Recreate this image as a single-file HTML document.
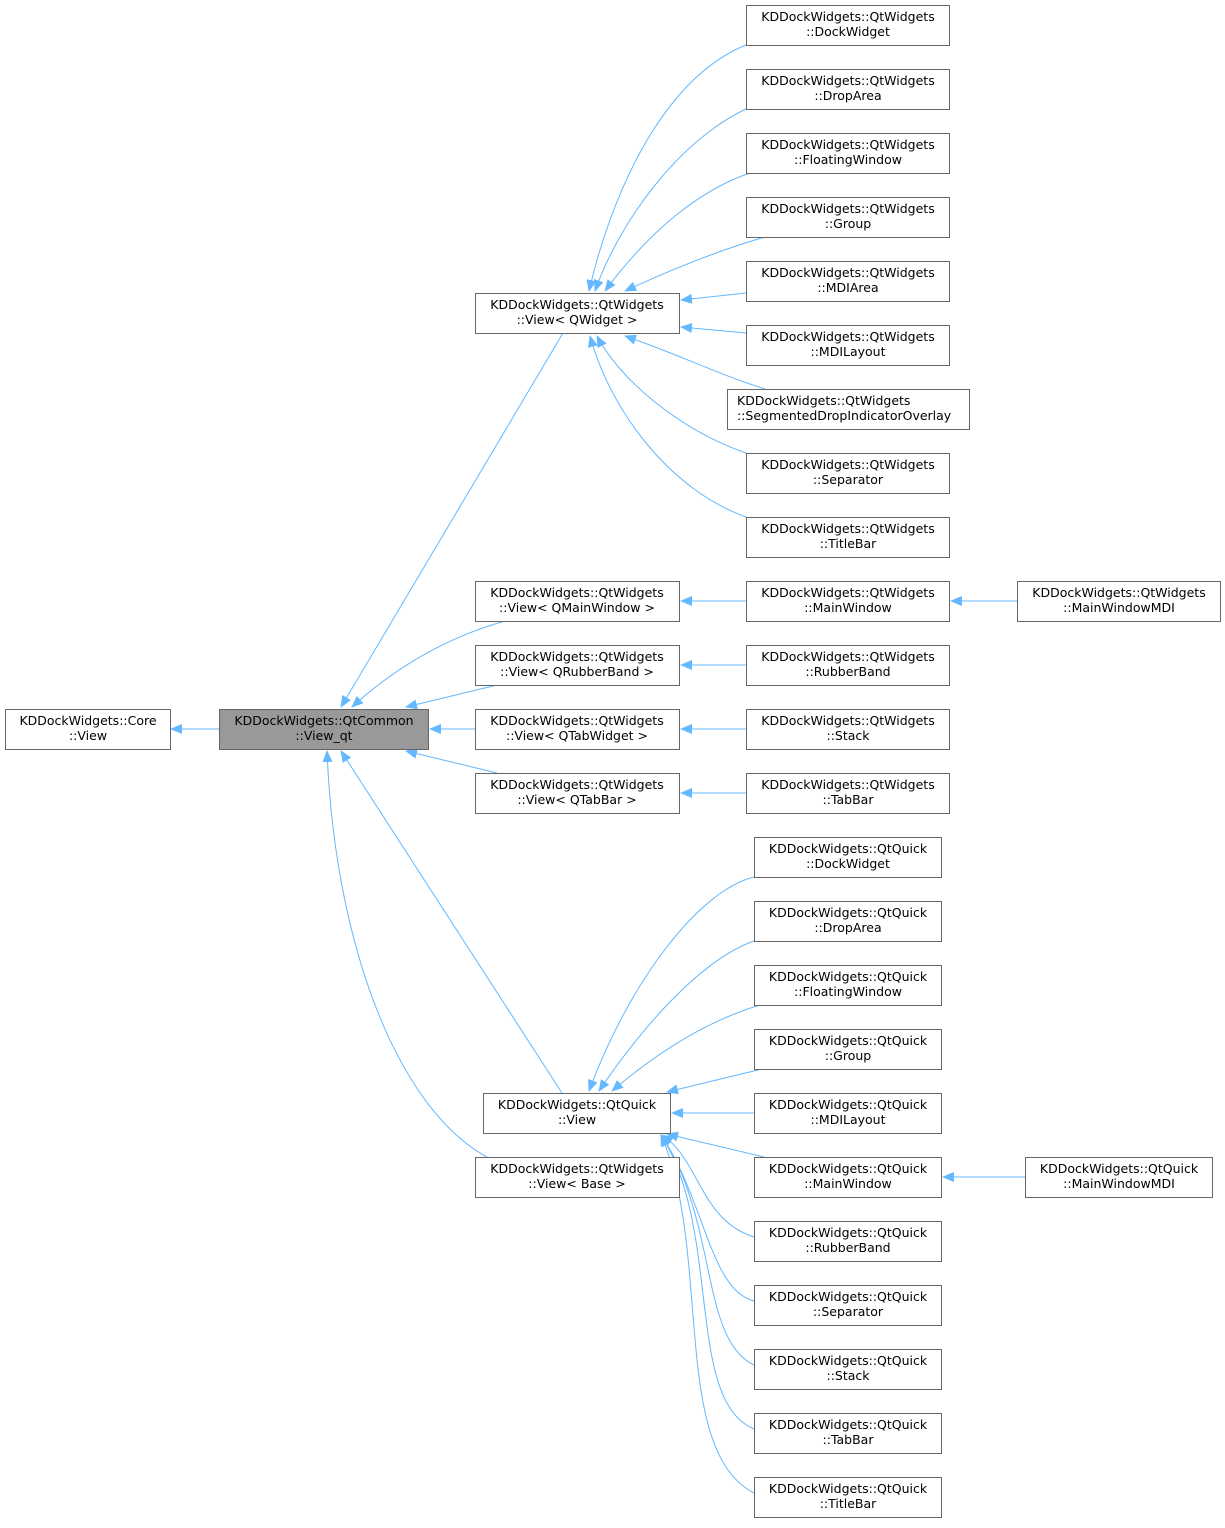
<!DOCTYPE html>
<html><head><meta charset="utf-8"><style>
body{margin:0;background:#fff}
svg text{font-family:"DejaVu Sans","Liberation Sans",sans-serif;font-size:12.5px;fill:#000}
</style></head><body>
<svg width="1225" height="1523" viewBox="0 0 1225 1523" xmlns="http://www.w3.org/2000/svg">
<defs><marker id="a" markerWidth="12" markerHeight="10" refX="11" refY="5" orient="auto" markerUnits="userSpaceOnUse"><path d="M0,0 L12,5 L0,10 Z" fill="#63b8ff"/></marker></defs>
<g fill="none" stroke="#63b8ff" stroke-width="1" marker-end="url(#a)">
<path d="M219,729 L171,729"/>
<path d="M563,333 L341,707"/>
<path d="M505,621 Q420,645 352,707"/>
<path d="M497,685 L406,707"/>
<path d="M475,729 L430,729"/>
<path d="M497,773 L406,751"/>
<path d="M562,1093 L341,751"/>
<path d="M487,1157 C400,1110 335,950 327,751"/>
<path d="M746,45 C660,80 610,200 589,291"/>
<path d="M746,109 C680,140 620,220 595,291"/>
<path d="M750,173 C700,190 650,230 605,291"/>
<path d="M765,237 C720,250 670,270 625,291"/>
<path d="M746,293 L681,300"/>
<path d="M746,333 L681,327"/>
<path d="M765,389 C720,375 680,355 625,336"/>
<path d="M746,453 C680,430 620,380 597,336"/>
<path d="M746,517 C670,490 610,410 590,336"/>
<path d="M746,601 L681,601"/>
<path d="M1017,601 L951,601"/>
<path d="M746,665 L681,665"/>
<path d="M746,729 L681,729"/>
<path d="M746,793 L681,793"/>
<path d="M754,877 C700,890 630,980 589,1091"/>
<path d="M754,941 C700,960 640,1030 599,1091"/>
<path d="M760,1005 C710,1020 660,1050 612,1091"/>
<path d="M762,1069 L667,1092"/>
<path d="M754,1113 L672,1113"/>
<path d="M764,1157 L667,1134"/>
<path d="M1025,1177 L943,1177"/>
<path d="M754,1237 C700,1220 700,1160 662,1135"/>
<path d="M754,1301 C710,1290 705,1200 661,1135"/>
<path d="M754,1365 C700,1340 718,1220 661,1135"/>
<path d="M754,1429 C685,1400 722,1230 661,1135"/>
<path d="M754,1493 C670,1450 712,1250 661,1135"/>
</g>
<g stroke="#666" stroke-width="1" fill="#fff">
<rect x="5.5" y="709.5" width="165" height="40"/>
<rect x="219.5" y="709.5" width="209" height="40" fill="#999"/>
<rect x="475.5" y="293.5" width="204" height="40"/>
<rect x="475.5" y="581.5" width="204" height="40"/>
<rect x="475.5" y="645.5" width="204" height="40"/>
<rect x="475.5" y="709.5" width="204" height="40"/>
<rect x="475.5" y="773.5" width="204" height="40"/>
<rect x="475.5" y="1157.5" width="204" height="40"/>
<rect x="483.5" y="1093.5" width="187" height="40"/>
<rect x="746.5" y="5.5" width="203" height="40"/>
<rect x="746.5" y="69.5" width="203" height="40"/>
<rect x="746.5" y="133.5" width="203" height="40"/>
<rect x="746.5" y="197.5" width="203" height="40"/>
<rect x="746.5" y="261.5" width="203" height="40"/>
<rect x="746.5" y="325.5" width="203" height="40"/>
<rect x="727.5" y="389.5" width="242" height="40"/>
<rect x="746.5" y="453.5" width="203" height="40"/>
<rect x="746.5" y="517.5" width="203" height="40"/>
<rect x="746.5" y="581.5" width="203" height="40"/>
<rect x="746.5" y="645.5" width="203" height="40"/>
<rect x="746.5" y="709.5" width="203" height="40"/>
<rect x="746.5" y="773.5" width="203" height="40"/>
<rect x="1017.5" y="581.5" width="203" height="40"/>
<rect x="754.5" y="837.5" width="187" height="40"/>
<rect x="754.5" y="901.5" width="187" height="40"/>
<rect x="754.5" y="965.5" width="187" height="40"/>
<rect x="754.5" y="1029.5" width="187" height="40"/>
<rect x="754.5" y="1093.5" width="187" height="40"/>
<rect x="754.5" y="1157.5" width="187" height="40"/>
<rect x="754.5" y="1221.5" width="187" height="40"/>
<rect x="754.5" y="1285.5" width="187" height="40"/>
<rect x="754.5" y="1349.5" width="187" height="40"/>
<rect x="754.5" y="1413.5" width="187" height="40"/>
<rect x="754.5" y="1477.5" width="187" height="40"/>
<rect x="1025.5" y="1157.5" width="187" height="40"/>
</g>
<g text-anchor="middle">
<text x="88" y="725">KDDockWidgets::Core</text><text x="88" y="740">::View</text>
<text x="324" y="725">KDDockWidgets::QtCommon</text><text x="324" y="740">::View_qt</text>
<text x="577" y="309">KDDockWidgets::QtWidgets</text><text x="577" y="324">::View&lt; QWidget &gt;</text>
<text x="577" y="597">KDDockWidgets::QtWidgets</text><text x="577" y="612">::View&lt; QMainWindow &gt;</text>
<text x="577" y="661">KDDockWidgets::QtWidgets</text><text x="577" y="676">::View&lt; QRubberBand &gt;</text>
<text x="577" y="725">KDDockWidgets::QtWidgets</text><text x="577" y="740">::View&lt; QTabWidget &gt;</text>
<text x="577" y="789">KDDockWidgets::QtWidgets</text><text x="577" y="804">::View&lt; QTabBar &gt;</text>
<text x="577" y="1173">KDDockWidgets::QtWidgets</text><text x="577" y="1188">::View&lt; Base &gt;</text>
<text x="577" y="1109">KDDockWidgets::QtQuick</text><text x="577" y="1124">::View</text>
<text x="848" y="21">KDDockWidgets::QtWidgets</text><text x="848" y="36">::DockWidget</text>
<text x="848" y="85">KDDockWidgets::QtWidgets</text><text x="848" y="100">::DropArea</text>
<text x="848" y="149">KDDockWidgets::QtWidgets</text><text x="848" y="164">::FloatingWindow</text>
<text x="848" y="213">KDDockWidgets::QtWidgets</text><text x="848" y="228">::Group</text>
<text x="848" y="277">KDDockWidgets::QtWidgets</text><text x="848" y="292">::MDIArea</text>
<text x="848" y="341">KDDockWidgets::QtWidgets</text><text x="848" y="356">::MDILayout</text>
<text x="737" y="405" text-anchor="start">KDDockWidgets::QtWidgets</text><text x="737" y="420" text-anchor="start">::SegmentedDropIndicatorOverlay</text>
<text x="848" y="469">KDDockWidgets::QtWidgets</text><text x="848" y="484">::Separator</text>
<text x="848" y="533">KDDockWidgets::QtWidgets</text><text x="848" y="548">::TitleBar</text>
<text x="848" y="597">KDDockWidgets::QtWidgets</text><text x="848" y="612">::MainWindow</text>
<text x="848" y="661">KDDockWidgets::QtWidgets</text><text x="848" y="676">::RubberBand</text>
<text x="848" y="725">KDDockWidgets::QtWidgets</text><text x="848" y="740">::Stack</text>
<text x="848" y="789">KDDockWidgets::QtWidgets</text><text x="848" y="804">::TabBar</text>
<text x="1119" y="597">KDDockWidgets::QtWidgets</text><text x="1119" y="612">::MainWindowMDI</text>
<text x="848" y="853">KDDockWidgets::QtQuick</text><text x="848" y="868">::DockWidget</text>
<text x="848" y="917">KDDockWidgets::QtQuick</text><text x="848" y="932">::DropArea</text>
<text x="848" y="981">KDDockWidgets::QtQuick</text><text x="848" y="996">::FloatingWindow</text>
<text x="848" y="1045">KDDockWidgets::QtQuick</text><text x="848" y="1060">::Group</text>
<text x="848" y="1109">KDDockWidgets::QtQuick</text><text x="848" y="1124">::MDILayout</text>
<text x="848" y="1173">KDDockWidgets::QtQuick</text><text x="848" y="1188">::MainWindow</text>
<text x="848" y="1237">KDDockWidgets::QtQuick</text><text x="848" y="1252">::RubberBand</text>
<text x="848" y="1301">KDDockWidgets::QtQuick</text><text x="848" y="1316">::Separator</text>
<text x="848" y="1365">KDDockWidgets::QtQuick</text><text x="848" y="1380">::Stack</text>
<text x="848" y="1429">KDDockWidgets::QtQuick</text><text x="848" y="1444">::TabBar</text>
<text x="848" y="1493">KDDockWidgets::QtQuick</text><text x="848" y="1508">::TitleBar</text>
<text x="1119" y="1173">KDDockWidgets::QtQuick</text><text x="1119" y="1188">::MainWindowMDI</text>
</g>
</svg>
</body></html>
